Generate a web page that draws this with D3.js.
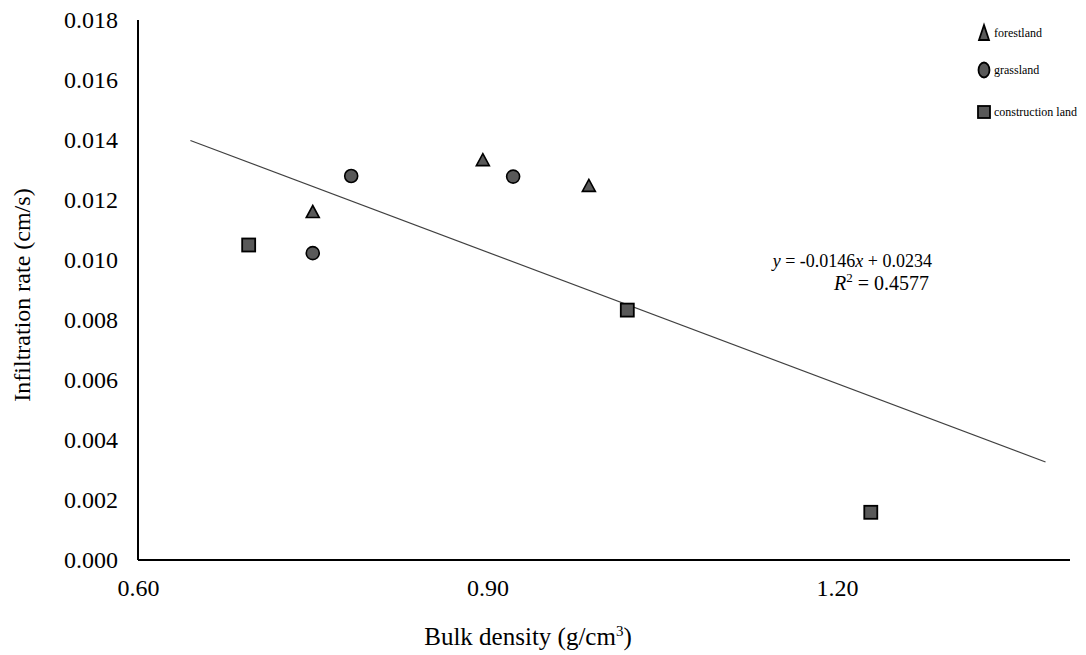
<!DOCTYPE html>
<html>
<head>
<meta charset="utf-8">
<script src="https://cdn.jsdelivr.net/npm/d3@7"></script>
<style>
  body { margin: 0; background: #fff; }
  text { font-family: "Liberation Serif", serif; fill: #000; }
</style>
</head>
<body>
<svg id="chart" width="1086" height="655"></svg>
<script>
// data
var forestX = [0.750, 0.896, 0.987];
var forestY = [0.01160, 0.01333, 0.01247];
var grassX = [0.750, 0.783, 0.922];
var grassY = [0.01023, 0.01280, 0.01278];
var buildX = [0.695, 1.020, 1.229];
var buildY = [0.01050, 0.00833, 0.00159];

var xTicks = [0.6, 0.9, 1.2];
var yTicks = [0, 0.002, 0.004, 0.006, 0.008, 0.010, 0.012, 0.014, 0.016, 0.018];

// linear trend y = a*x + b, drawn from trendX[0] to trendX[1]
var slope = -0.0146, intercept = 0.0234;
var trendX = [0.645, 1.379];

var legendNames = ["forestland", "grassland", "construction land"];

var svg = d3.select("#chart");

var x = d3.scaleLinear().domain([0.6, 1.4]).range([138, 1070]);
var y = d3.scaleLinear().domain([0, 0.018]).range([560, 20]);

// axes (no tick marks, just labels)
var xAxis = svg.append("g")
    .attr("transform", "translate(0,560)")
    .call(d3.axisBottom(x).tickValues(xTicks).tickSize(0).tickPadding(19).tickFormat(d3.format(".2f")));
var yAxis = svg.append("g")
    .attr("transform", "translate(138,0)")
    .call(d3.axisLeft(y).tickValues(yTicks).tickSize(0).tickPadding(20).tickFormat(d3.format(".3f")));

[xAxis, yAxis].forEach(function(g) {
    g.select(".domain").attr("stroke", "#000").attr("stroke-width", 2);
    g.selectAll("text").style("font-size", "24px").attr("font-family", null);
});
xAxis.select(".domain").attr("d", "M138,0H1070");
yAxis.select(".domain").attr("d", "M0,20V560");

// trendline
svg.append("line")
    .attr("x1", x(trendX[0])).attr("y1", y(slope * trendX[0] + intercept))
    .attr("x2", x(trendX[1])).attr("y2", y(slope * trendX[1] + intercept))
    .attr("stroke", "#404040")
    .attr("stroke-width", 1.2);

var fill = "#595959";

// forestland triangles
svg.append("g").selectAll("path")
    .data(d3.zip(forestX, forestY))
    .enter().append("path")
    .attr("transform", function(d) { return "translate(" + x(d[0]) + "," + y(d[1]) + ")"; })
    .attr("d", "M0,-6.5L6.5,5.5L-6.5,5.5Z")
    .attr("fill", fill).attr("stroke", "#000").attr("stroke-width", 1.6);

// grassland circles
svg.append("g").selectAll("circle")
    .data(d3.zip(grassX, grassY))
    .enter().append("circle")
    .attr("cx", function(d) { return x(d[0]); })
    .attr("cy", function(d) { return y(d[1]); })
    .attr("r", 6.5)
    .attr("fill", fill).attr("stroke", "#000").attr("stroke-width", 1.6);

// construction land squares
svg.append("g").selectAll("rect")
    .data(d3.zip(buildX, buildY))
    .enter().append("rect")
    .attr("x", function(d) { return x(d[0]) - 6.5; })
    .attr("y", function(d) { return y(d[1]) - 6.5; })
    .attr("width", 13).attr("height", 13)
    .attr("fill", fill).attr("stroke", "#000").attr("stroke-width", 1.8);

// equation
var eq = svg.append("text")
    .attr("x", 932).attr("y", 267)
    .attr("text-anchor", "end")
    .style("font-size", "18px");
eq.append("tspan").style("font-style", "italic").text("y");
eq.append("tspan").text(" = -0.0146");
eq.append("tspan").style("font-style", "italic").text("x");
eq.append("tspan").text(" + 0.0234");

var r2 = svg.append("text")
    .attr("x", 929).attr("y", 290)
    .attr("text-anchor", "end")
    .style("font-size", "20px");
r2.append("tspan").style("font-style", "italic").text("R");
r2.append("tspan").attr("dy", -8).style("font-size", "13px").text("2");
r2.append("tspan").attr("dy", 8).text(" = 0.4577");

// axis titles
var xt = svg.append("text")
    .attr("x", 528).attr("y", 645)
    .attr("text-anchor", "middle")
    .style("font-size", "25px");
xt.append("tspan").text("Bulk density (g/cm");
xt.append("tspan").attr("dy", -9).style("font-size", "15px").text("3");
xt.append("tspan").attr("dy", 9).text(")");

svg.append("text")
    .attr("transform", "translate(30,295) rotate(-90)")
    .attr("text-anchor", "middle")
    .style("font-size", "24px")
    .text("Infiltration rate (cm/s)");

// legend
var legend = svg.append("g");
var legendY = [33, 70, 112];
legendNames.forEach(function(name, i) {
    var g = legend.append("g").attr("transform", "translate(984," + legendY[i] + ")");
    if (i === 0) {
        g.append("path").attr("d", "M0,-8L5,7L-5,7Z");
    } else if (i === 1) {
        g.append("ellipse").attr("rx", 5.5).attr("ry", 7.5);
    } else {
        g.append("rect").attr("x", -6).attr("y", -6).attr("width", 12).attr("height", 12);
    }
    g.select(":first-child").attr("fill", fill).attr("stroke", "#000").attr("stroke-width", 1.8);
    g.append("text").attr("x", 10).attr("y", 4).style("font-size", "12px").text(name);
});
</script>
</body>
</html>
